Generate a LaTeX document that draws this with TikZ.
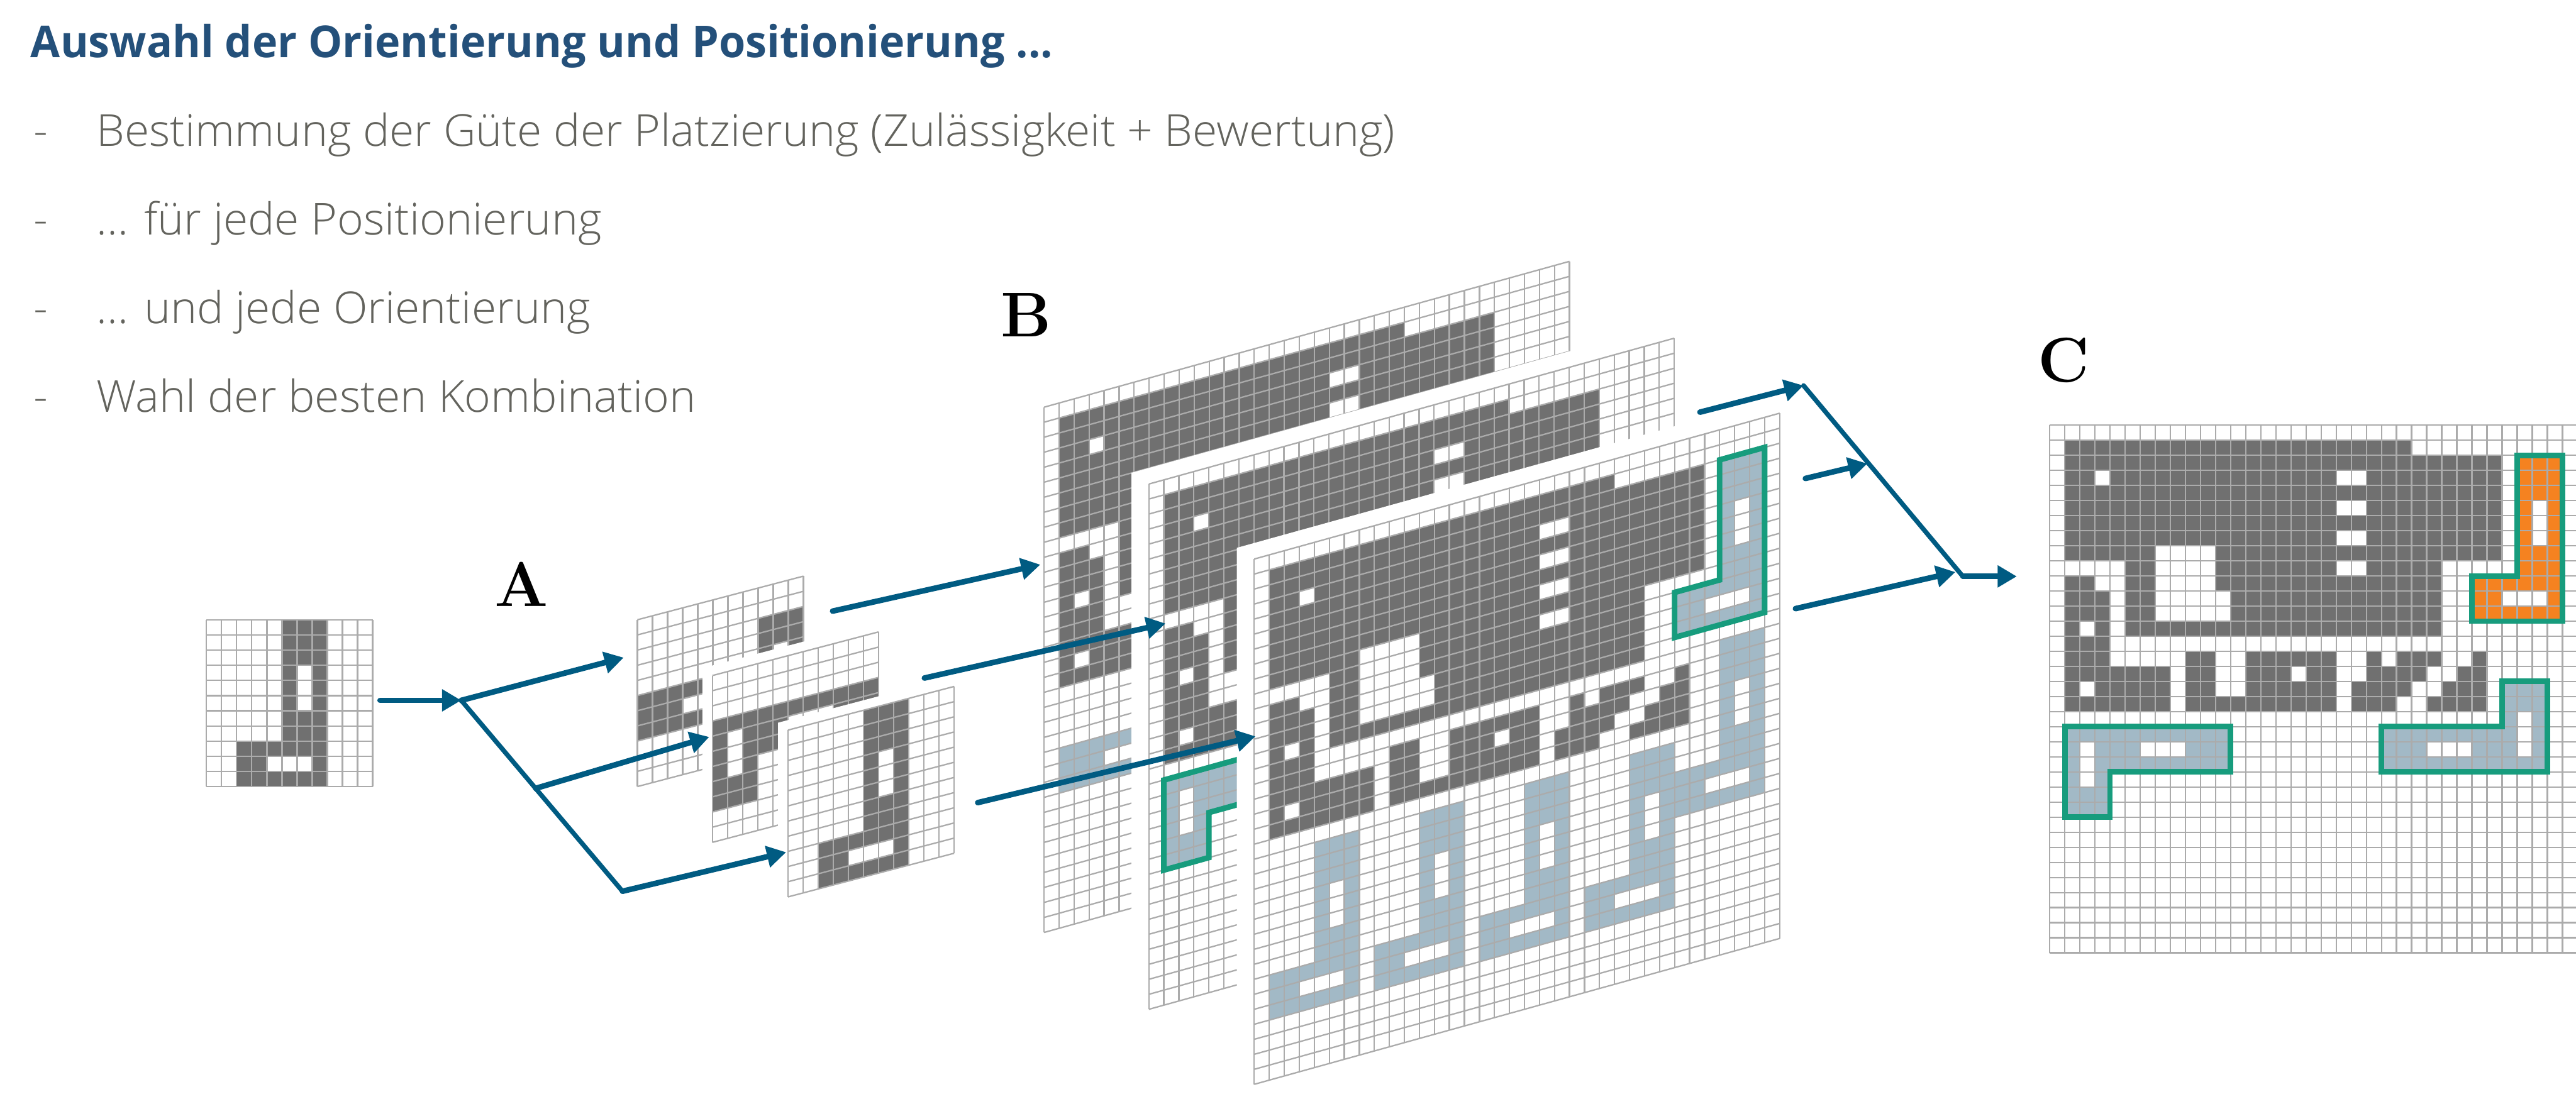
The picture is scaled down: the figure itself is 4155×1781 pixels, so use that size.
\documentclass[tikz,border=0pt]{standalone}
\usepackage{fontspec}
\usetikzlibrary{arrows.meta}
\newfontfamily\slidefont[FakeStretch=1.02]{Open Sans Light}
\newfontfamily\slidebold[FakeStretch=0.975]{Open Sans}
\definecolor{gridgray}{HTML}{ABABAB}
\definecolor{cellgray}{HTML}{707070}
\definecolor{pieceblue}{HTML}{A2B9C6}
\definecolor{pieceorange}{HTML}{F58220}
\definecolor{edgegreen}{HTML}{179C7D}
\definecolor{arrowblue}{HTML}{005B82}
\definecolor{titleblue}{HTML}{24507A}
\definecolor{textgray}{HTML}{63635D}
\tikzset{
  gridline/.style={draw=gridgray, line width=0.023cm},
  cellfill/.style={fill=cellgray},
  bluefill/.style={fill=pieceblue},
  orangefill/.style={fill=pieceorange},
  greenedge/.style={draw=edgegreen, line width=0.09cm, line join=miter},
  branch/.style={draw=arrowblue, line width=0.075cm, line cap=round},
  feed/.style={draw=arrowblue, line width=0.09cm, line cap=round, -{Triangle[length=0.31cm,width=0.34cm]}},
  bullet/.style={anchor=base west, inner sep=0pt, text=textgray, font=\slidefont\fontsize{20.2}{24}\selectfont},
  letter/.style={anchor=base west, inner sep=0pt, font=\bfseries\fontsize{29}{30}\selectfont},
  bigplane/.style={x={(0.242cm,0.0672cm)}, y={(0cm,-0.242cm)}},
  smallplane/.style={x={(0.2435cm,0.0640cm)}, y={(0cm,-0.2445cm)}},
  flatsmall/.style={x={(0.2436cm,0cm)}, y={(0cm,-0.2445cm)}},
  flatbig/.style={x={(0.2431cm,0cm)}, y={(0cm,-0.2431cm)}}
}
% piece shapes in cell units: upright, lying left, lying right
\def\shapeU{(3,0) -- (6,0) -- (6,11) -- (0,11) -- (0,8) -- (3,8) -- cycle}
\def\holesU{(4,3) -- (5,3) -- (5,6) -- (4,6) -- cycle (2,9) -- (5,9) -- (5,10) -- (2,10) -- cycle}
\def\shapeL{(0,0) -- (11,0) -- (11,3) -- (3,3) -- (3,6) -- (0,6) -- cycle}
\def\holesL{(1,1) -- (2,1) -- (2,4) -- (1,4) -- cycle (5,1) -- (8,1) -- (8,2) -- (5,2) -- cycle}
\def\shapeR{(8,0) -- (11,0) -- (11,6) -- (0,6) -- (0,3) -- (8,3) -- cycle}
\def\holesR{(9,2) -- (10,2) -- (10,5) -- (9,5) -- cycle (3,4) -- (6,4) -- (6,5) -- (3,5) -- cycle}
\newcommand{\pieceU}[3]{\fill[#3, even odd rule, shift={(#1,#2)}] \shapeU \holesU;}
\newcommand{\pieceL}[3]{\fill[#3, even odd rule, shift={(#1,#2)}] \shapeL \holesL;}
\newcommand{\pieceR}[3]{\fill[#3, even odd rule, shift={(#1,#2)}] \shapeR \holesR;}
\newcommand{\edgeU}[2]{\draw[greenedge, shift={(#1,#2)}] \shapeU;}
\newcommand{\edgeL}[2]{\draw[greenedge, shift={(#1,#2)}] \shapeL;}
\newcommand{\edgeR}[2]{\draw[greenedge, shift={(#1,#2)}] \shapeR;}
% white sheet behind a grid, a bit larger to the left and above
\newcommand{\sheet}[3]{\fill[white] (-#2,-#3) -- (#1,-#3) -- (#1,#1) -- (-#2,#1) -- cycle;}
\newcommand{\gridlines}[1]{\foreach \i in {0,...,#1} {
    \draw[gridline] (\i,0) -- (\i,#1);
    \draw[gridline] (0,\i) -- (#1,\i);
  }}
% occupied cells of the sheet: row/first/end
\newcommand{\occupied}{\foreach \r/\a/\b in {1/1/24, 2/1/30, 3/1/3, 3/4/19, 3/21/30, 4/1/30, 5/1/19, 5/21/30, 6/1/30,
    7/1/19, 7/21/30, 8/1/7, 8/11/30, 9/5/7, 9/11/19, 9/21/26, 10/1/3, 10/5/7, 10/11/26,
    11/1/4, 11/5/7, 11/12/26, 12/1/4, 12/5/7, 12/12/26, 13/1/2, 13/3/4, 13/5/26, 14/1/4,
    15/1/4, 15/9/11, 15/13/19, 15/21/22, 15/23/26, 15/28/29,
    16/1/8, 16/9/11, 16/13/16, 16/17/19, 16/21/25, 16/27/29,
    17/1/2, 17/3/8, 17/9/11, 17/13/19, 17/20/24, 17/26/29,
    18/1/8, 18/9/19, 18/20/23, 18/25/29} {
    \fill[cellfill] (\a,\r) -- (\b,\r) -- (\b,\r+1) -- (\a,\r+1) -- cycle;
  }}
\begin{document}
\begin{tikzpicture}[x=0.01cm, y=-0.01cm]
  \useasboundingbox (0,0) rectangle (4155,1781);

  % text
  \node[anchor=base west, inner sep=0pt, text=titleblue, font=\slidebold\bfseries\fontsize{20.2}{24}\selectfont] (title) at (49,93) {Auswahl der Orientierung und Positionierung ...};
  \node[bullet] (dasha) at (54,236) {-};
  \node[bullet] (linea) at (155,236) {Bestimmung der Güte der Platzierung (Zulässigkeit + Bewertung)};
  \node[bullet] (dashb) at (54,379) {-};
  \node[bullet] (lineb) at (155,379) {... für jede Positionierung};
  \node[bullet] (dashc) at (54,522) {-};
  \node[bullet] (linec) at (155,522) {... und jede Orientierung};
  \node[bullet] (dashd) at (54,665) {-};
  \node[bullet] (lined) at (155,665) {Wahl der besten Kombination};

  \node[letter] (labelA) at (797,978) {A};
  \node[letter] (labelB) at (1614,543) {B};
  \node[letter] (labelC) at (3286,616) {C};

  % the single piece
  \begin{scope}[shift={(333,1000)}, flatsmall]
    \pieceU{2}{0}{cellfill}
    \gridlines{11}
  \end{scope}

  % A: three orientations
  \begin{scope}[shift={(1028,1000)}, smallplane]
    \pieceR{0}{2}{cellfill}
    \gridlines{11}
  \end{scope}
  \begin{scope}[shift={(1149,1090)}, smallplane]
    \sheet{11}{0.66}{0.66}
    \pieceL{0}{3}{cellfill}
    \gridlines{11}
  \end{scope}
  \begin{scope}[shift={(1271,1178)}, smallplane]
    \sheet{11}{0.66}{0.66}
    \pieceU{2}{0}{cellfill}
    \gridlines{11}
  \end{scope}

  % B: the container for each orientation
  \begin{scope}[shift={(1684,657)}, bigplane]
    \occupied
    \pieceR{1}{20}{bluefill}
    \gridlines{35}
  \end{scope}
  \begin{scope}[shift={(1853,781)}, bigplane]
    \sheet{35}{1.157}{1.07}
    \occupied
    \pieceL{1}{20}{bluefill}
    \gridlines{35}
    \edgeL{1}{20}
  \end{scope}
  \begin{scope}[shift={(2023,902)}, bigplane]
    \sheet{35}{1.157}{1.07}
    \occupied
    \foreach \c/\r in {1/20, 8/20, 15/20, 22/20, 28/14, 28/2} {\pieceU{\c}{\r}{bluefill}}
    \gridlines{35}
    \edgeU{28}{2}
  \end{scope}

  % C: the result
  \begin{scope}[shift={(3306,686)}, flatbig]
    \occupied
    \pieceU{28}{2}{orangefill}
    \pieceL{1}{20}{bluefill}
    \pieceR{22}{17}{bluefill}
    \gridlines{35}
    \edgeU{28}{2}
    \edgeL{1}{20}
    \edgeR{22}{17}
  \end{scope}

  % connectors
  \coordinate (srcout) at (613,1130);
  \coordinate (forkA) at (744,1130);
  \coordinate (forkB) at (864,1272);
  \coordinate (forkC) at (1004,1438);
  \coordinate (intoa) at (1006,1061);
  \coordinate (intob) at (1144,1189);
  \coordinate (intoc) at (1268,1375);
  \coordinate (froma) at (1343,986);
  \coordinate (fromb) at (1491,1094);
  \coordinate (fromc) at (1577,1295);
  \coordinate (planea) at (1678,911);
  \coordinate (planeb) at (1880,1006);
  \coordinate (planec) at (2025,1188);
  \coordinate (leavea) at (2742,665);
  \coordinate (leaveb) at (2912,772);
  \coordinate (leavec) at (2896,982);
  \coordinate (mergeA) at (2909,622);
  \coordinate (mergeB) at (3012,748);
  \coordinate (mergeC) at (3154,923);
  \coordinate (mergeD) at (3166,930);
  \coordinate (result) at (3253,930);

  \draw[branch] (forkA) -- (forkC);
  \draw[branch] (mergeA) -- (mergeD);
  \draw[feed] (srcout) -- (forkA);
  \draw[feed] (forkA) -- (intoa);
  \draw[feed] (forkB) -- (intob);
  \draw[feed] (forkC) -- (intoc);
  \draw[feed] (froma) -- (planea);
  \draw[feed] (fromb) -- (planeb);
  \draw[feed] (fromc) -- (planec);
  \draw[feed] (leavea) -- (mergeA);
  \draw[feed] (leaveb) -- (mergeB);
  \draw[feed] (leavec) -- (mergeC);
  \draw[feed] (mergeD) -- (result);
\end{tikzpicture}
\end{document}
